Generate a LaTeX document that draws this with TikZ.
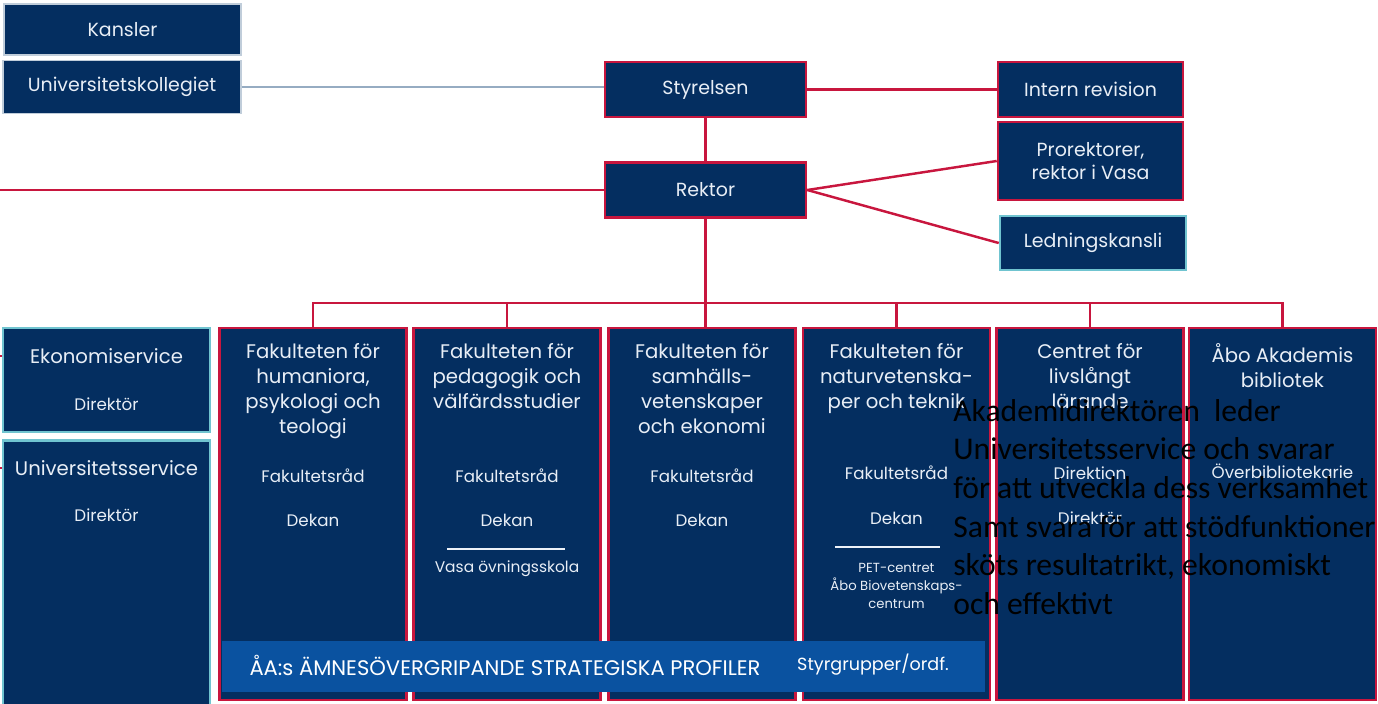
\documentclass[tikz,border=0pt]{standalone}
\usepackage{fontspec}
\setmainfont{Poppins}
\newfontfamily\notefont{Carlito}
\usepackage{xcolor}
\usetikzlibrary{positioning}
\definecolor{navyfill}{RGB}{4,46,96}
\definecolor{bandfill}{RGB}{10,82,160}
\definecolor{redline}{RGB}{200,22,62}
\definecolor{tealline}{RGB}{112,196,208}
\definecolor{grayline}{RGB}{150,172,194}
\definecolor{paletext}{RGB}{232,238,246}

\begin{document}
\begin{tikzpicture}[
    x=0.02cm, y=-0.02cm,
    box/.style={draw=redline, line width=1.5pt, fill=navyfill, text=paletext, inner sep=0pt, font=\fontsize{10.8}{13}\selectfont, align=center},
    unitbox/.style={box, draw=tealline},
    plainbox/.style={box, draw=grayline!60, line width=0.6pt},
    colbox/.style={box, minimum width=3.74cm, minimum height=7.44cm},
    coltitle/.style={text=paletext, inner sep=0pt, anchor=north, align=center, font=\fontsize{11.2}{14.2}\selectfont},
    colsub/.style={text=paletext, inner sep=0pt, font=\fontsize{9.5}{12}\selectfont},
    colsmall/.style={text=paletext, inner sep=0pt, align=center, font=\fontsize{7.5}{10.5}\selectfont},
    link/.style={draw=redline, line width=1.4pt},
    sepline/.style={draw=paletext!80, line width=0.6pt},
    note/.style={inner sep=0pt, anchor=north west, align=left, text=black, font=\notefont\fontsize{18}{22}\selectfont}
]
    \useasboundingbox (0,0) rectangle (1378,703);

    % Top level
    \node[plainbox, minimum width=4.74cm, minimum height=1.02cm] (kansler) at (122.5,29.5) {Kansler};
    \node[plainbox, minimum width=4.76cm, minimum height=1.06cm] (kollegiet) at (122,87) {Universitetskollegiet};
    \node[box, minimum width=4.02cm, minimum height=1.10cm] (styrelsen) at (705.5,89.5) {Styrelsen};
    \node[box, minimum width=3.70cm, minimum height=1.10cm] (revision) at (1090.5,89.5) {Intern revision};
    \node[box, minimum width=3.70cm, minimum height=1.56cm] (prorektor) at (1090.5,161) {Prorektorer,\\ rektor i Vasa};
    \node[box, minimum width=4.02cm, minimum height=1.10cm] (rektor) at (705.5,190) {Rektor};
    \node[unitbox, minimum width=3.72cm, minimum height=1.08cm] (kansli) at (1093,243) {Ledningskansli};

    % Service units
    \node[unitbox, minimum width=4.14cm, minimum height=2.08cm] (eko) at (106.5,380) {};
    \node[unitbox, minimum width=4.14cm, minimum height=5.30cm] (univ) at (106.5,573) {};
    \node[colsub, font=\fontsize{11.2}{13}\selectfont] (ekotitle) at (106.5,356) {Ekonomiservice};
    \node[colsub] (ekodir) at (106.5,404) {Direktör};
    \node[colsub, font=\fontsize{11.2}{13}\selectfont] (univtitle) at (106.5,468) {Universitetsservice};
    \node[colsub] (univdir) at (106.5,515) {Direktör};

    % Faculties and units
    \node[colbox] (fak1) at (313,514) {};
    \node[colbox] (fak2) at (507,514) {};
    \node[colbox] (fak3) at (702,514) {};
    \node[colbox] (fak4) at (896.5,514) {};
    \node[colbox] (centret) at (1090,514) {};
    \node[colbox] (bibliotek) at (1282.5,514) {};

    \node[coltitle] (fak1title) at (313,343) {Fakulteten för\\ humaniora,\\ psykologi och\\ teologi};
    \node[colsub] (fak1rad) at (313,476) {Fakultetsråd};
    \node[colsub] (fak1dekan) at (313,520) {Dekan};

    \node[coltitle] (fak2title) at (507,343) {Fakulteten för\\ pedagogik och\\ välfärdsstudier};
    \node[colsub] (fak2rad) at (507,476) {Fakultetsråd};
    \node[colsub] (fak2dekan) at (507,520) {Dekan};
    \node[colsmall, font=\fontsize{8.8}{10.5}\selectfont] (vasa) at (507,569) {Vasa övningsskola};
    \draw[sepline] (447,549) -- (565,549);

    \node[coltitle] (fak3title) at (702,343) {Fakulteten för\\ samhälls-\\ vetenskaper\\ och ekonomi};
    \node[colsub] (fak3rad) at (702,476) {Fakultetsråd};
    \node[colsub] (fak3dekan) at (702,520) {Dekan};

    \node[coltitle] (fak4title) at (896.5,343) {Fakulteten för\\ naturvetenska-\\ per och teknik};
    \node[colsub] (fak4rad) at (896.5,473) {Fakultetsråd};
    \node[colsub] (fak4dekan) at (896.5,518) {Dekan};
    \draw[sepline] (835,547) -- (940,547);
    \node[colsmall] (pet) at (896.5,586) {PET-centret\\ Åbo Biovetenskaps-\\ centrum};

    \node[coltitle] (centtitle) at (1090,343) {Centret för\\ livslångt\\ lärande};
    \node[colsub] (direktion) at (1090,473) {Direktion};
    \node[colsub] (centdir) at (1090,518) {Direktör};

    \node[coltitle] (bibtitle) at (1282.5,343) {Åbo Akademis\\ bibliotek};
    \node[colsub] (overbib) at (1282.5,471) {Överbibliotekarie};

    % Strategic profiles band
    \node[fill=bandfill, minimum width=15.26cm, minimum height=1.02cm, inner sep=0pt] (profiler) at (603.5,666.5) {};
    \node[text=white, inner sep=0pt, font=\fontsize{12}{13}\selectfont] (proftext) at (505,665) {ÅA:s ÄMNESÖVERGRIPANDE STRATEGISKA PROFILER};
    \node[text=white, inner sep=0pt, font=\fontsize{10}{13}\selectfont] (styrgrupper) at (873,665) {Styrgrupper/ordf.};

    % Connectors
    \coordinate (rektorleft) at (0,190);
    \coordinate (bus) at (0,303);
    \coordinate (ekoleft) at (0,356);
    \coordinate (univleft) at (0,468);
    \draw[draw=grayline, line width=1.3pt] (kollegiet.east) -- (kollegiet.east -| styrelsen.west);
    \draw[link] (styrelsen.east) -- (revision.west);
    \draw[link] (styrelsen.south) -- (rektor.north);
    \draw[link] (rektorleft) -- (rektor.west);
    \draw[link] (rektor.east) -- (prorektor.west);
    \draw[link] (rektor.east) -- (kansli.west);
    \draw[link] (rektor.south) -- (rektor.south |- fak3.north);
    \draw[link] (fak1.north) -- (fak1.north |- bus) -- (bibliotek.north |- bus) -- (bibliotek.north);
    \draw[link] (fak2.north) -- (fak2.north |- bus);
    \draw[link] (fak4.north) -- (fak4.north |- bus);
    \draw[link] (centret.north) -- (centret.north |- bus);
    \draw[link] (ekoleft) -- (eko.west |- ekoleft);
    \draw[link] (univleft) -- (univ.west |- univleft);

    % Note
    \node[note] (akademi) at (953,399) {Akademidirektören\ \ leder\\ Universitetsservice och svarar\\ för att utveckla dess verksamhet\\ Samt svara för att stödfunktioner\\ sköts resultatrikt, ekonomiskt\\ och effektivt};
\end{tikzpicture}
\end{document}
